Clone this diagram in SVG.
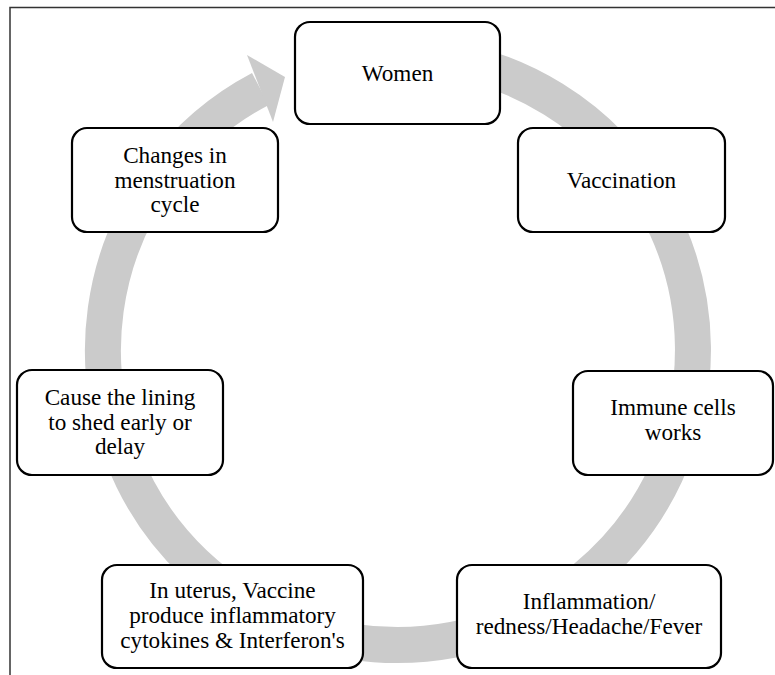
<svg xmlns="http://www.w3.org/2000/svg" width="775" height="675" viewBox="0 0 775 675">
<style>
.box{fill:#fff;stroke:#000;stroke-width:2.2}
.t{font-family:'Liberation Serif','Times New Roman',serif;font-size:23.2px;fill:#000;text-anchor:middle}
.frame{stroke:#333;stroke-width:1.5;fill:none}
</style>
<rect width="775" height="675" fill="#fff"/>
<path class="frame" d="M10,675 V7.5 H775"/>
<g id="connectors">
<path d="M429.9,56.7 A295,295 0 1 1 260.4,89" fill="none" stroke="#cbcbcb" stroke-width="36"/>
<polygon points="247,55 285,77 273,122" fill="#cbcbcb"/>
</g>
<g id="women">
<rect class="box" x="295" y="22" width="205" height="102" rx="15"/>
<text class="t" x="397.5" y="81">Women</text>
</g>
<g id="vaccination">
<rect class="box" x="518" y="128" width="207" height="104" rx="15"/>
<text class="t" x="621.5" y="188">Vaccination</text>
</g>
<g id="immune">
<rect class="box" x="573" y="371" width="200" height="104" rx="15"/>
<text class="t" x="673" y="415">Immune cells</text>
<text class="t" x="673" y="440">works</text>
</g>
<g id="inflammation">
<rect class="box" x="457" y="565" width="264" height="103" rx="15"/>
<text class="t" x="589" y="609">Inflammation/</text>
<text class="t" x="589" y="634">redness/Headache/Fever</text>
</g>
<g id="uterus">
<rect class="box" x="102" y="565" width="261" height="103" rx="15"/>
<text class="t" x="232.5" y="598">In uterus, Vaccine</text>
<text class="t" x="232.5" y="623">produce inflammatory</text>
<text class="t" x="232.5" y="648">cytokines &amp; Interferon's</text>
</g>
<g id="lining">
<rect class="box" x="17" y="370" width="206" height="105" rx="15"/>
<text class="t" x="120" y="405">Cause the lining</text>
<text class="t" x="120" y="430">to shed early or</text>
<text class="t" x="120" y="454">delay</text>
</g>
<g id="changes">
<rect class="box" x="72" y="128" width="206" height="104" rx="15"/>
<text class="t" x="175" y="163">Changes in</text>
<text class="t" x="175" y="188">menstruation</text>
<text class="t" x="175" y="212">cycle</text>
</g>
</svg>
